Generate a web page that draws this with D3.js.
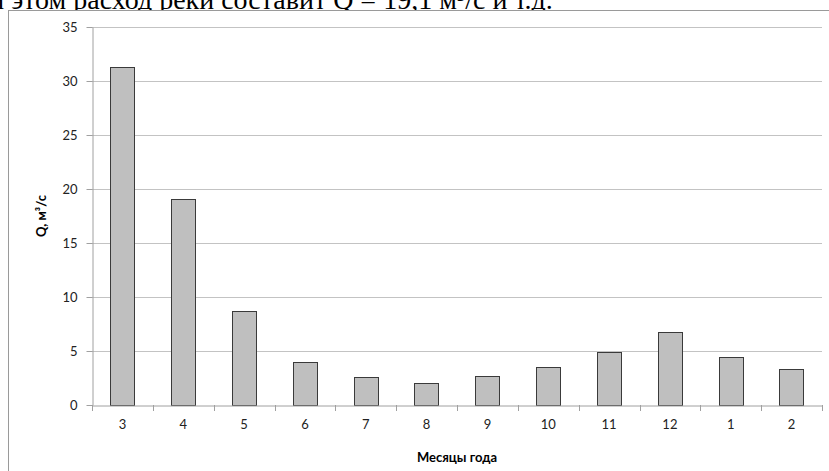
<!DOCTYPE html>
<html><head><meta charset="utf-8">
<script src="https://cdn.jsdelivr.net/npm/d3@7"></script>
<style>html,body{margin:0;padding:0;background:#fff;overflow:hidden}</style>
</head><body>
<svg id="c" width="829" height="471"></svg>
<script>
const months = ["3","4","5","6","7","8","9","10","11","12","1","2"];
const flow = [31.3, 19.1, 8.7, 4.0, 2.6, 2.0, 2.7, 3.5, 4.9, 6.8, 4.4, 3.3];
const yTicks = [0, 5, 10, 15, 20, 25, 30, 35];
const yTitle = "Q, м³/с";
const xTitle = "Месяцы года";
const headText = "При этом расход реки составит Q = 19,1 м³/с и т.д.";

const svg = d3.select("#c");
const m = {left: 92, right: 822, top: 27, bottom: 405};
const font = "Lato, 'Open Sans', sans-serif";

// clipped paragraph text above the chart
svg.append("text").attr("x", -45).attr("y", 9)
  .attr("font-family", "'Liberation Serif', 'Times New Roman', serif")
  .attr("font-size", 28).attr("fill", "#000").text(headText);

// chart frame
svg.append("rect").attr("x", 8.5).attr("y", 10.5).attr("width", 900).attr("height", 500)
  .attr("fill", "#fff").attr("stroke", "#9a9a9a");

const x = d3.scaleBand().domain(months).range([m.left, m.right]).paddingInner(0.6).paddingOuter(0.3);
const xb = d3.scaleBand().domain(months).range([m.left, m.right]);
const y = d3.scaleLinear().domain([0, 35]).range([m.bottom, m.top]);

// gridlines
svg.append("g").selectAll("line").data(yTicks.filter(d => d > 0)).join("line")
  .attr("x1", m.left).attr("x2", m.right)
  .attr("y1", d => Math.round(y(d)) + 0.5).attr("y2", d => Math.round(y(d)) + 0.5)
  .attr("stroke", "#c3c3c3");

// bars
svg.append("g").selectAll("rect").data(flow).join("rect")
  .attr("x", (d, i) => Math.round(x(months[i])) + 0.5)
  .attr("y", d => Math.round(y(d)) + 0.5)
  .attr("width", Math.round(x.bandwidth()))
  .attr("height", d => Math.round(y(0)) - Math.round(y(d)))
  .attr("fill", "#bfbfbf").attr("stroke", "#3a3a3a");

// y axis
const ya = svg.append("g").attr("transform", `translate(${m.left + 0.5},0)`)
  .call(d3.axisLeft(y).tickValues(yTicks).tickSize(6).tickPadding(9).tickSizeOuter(0));
ya.select(".domain").attr("stroke", "#a0a0a0");
ya.selectAll(".tick line").attr("stroke", "#a0a0a0");
ya.selectAll(".tick text").attr("font-family", font).attr("font-size", 13).attr("fill", "#222");

// x axis
const xa = svg.append("g").attr("transform", `translate(0,${m.bottom + 0.5})`)
  .call(d3.axisBottom(xb).tickSize(0).tickPadding(14));
xa.select(".domain").attr("stroke", "#a0a0a0");
xa.selectAll(".tick text").attr("font-family", font).attr("font-size", 13).attr("fill", "#222");
// category boundary ticks
const bounds = months.map(d => xb(d)).concat([m.right]);
svg.append("g").selectAll("line").data(bounds).join("line")
  .attr("x1", d => Math.round(d) + 0.5).attr("x2", d => Math.round(d) + 0.5)
  .attr("y1", m.bottom).attr("y2", m.bottom + 6).attr("stroke", "#a0a0a0");

// titles
svg.append("text").attr("x", (m.left + m.right) / 2).attr("y", 462)
  .attr("text-anchor", "middle").attr("font-family", font).attr("font-weight", "bold")
  .attr("font-size", 13).attr("fill", "#000").text(xTitle);
svg.append("text").attr("transform", `translate(46,${(m.top + m.bottom) / 2}) rotate(-90)`)
  .attr("text-anchor", "middle").attr("font-family", font).attr("font-weight", "bold")
  .attr("font-size", 13).attr("fill", "#000").text(yTitle);
</script>
</body></html>
